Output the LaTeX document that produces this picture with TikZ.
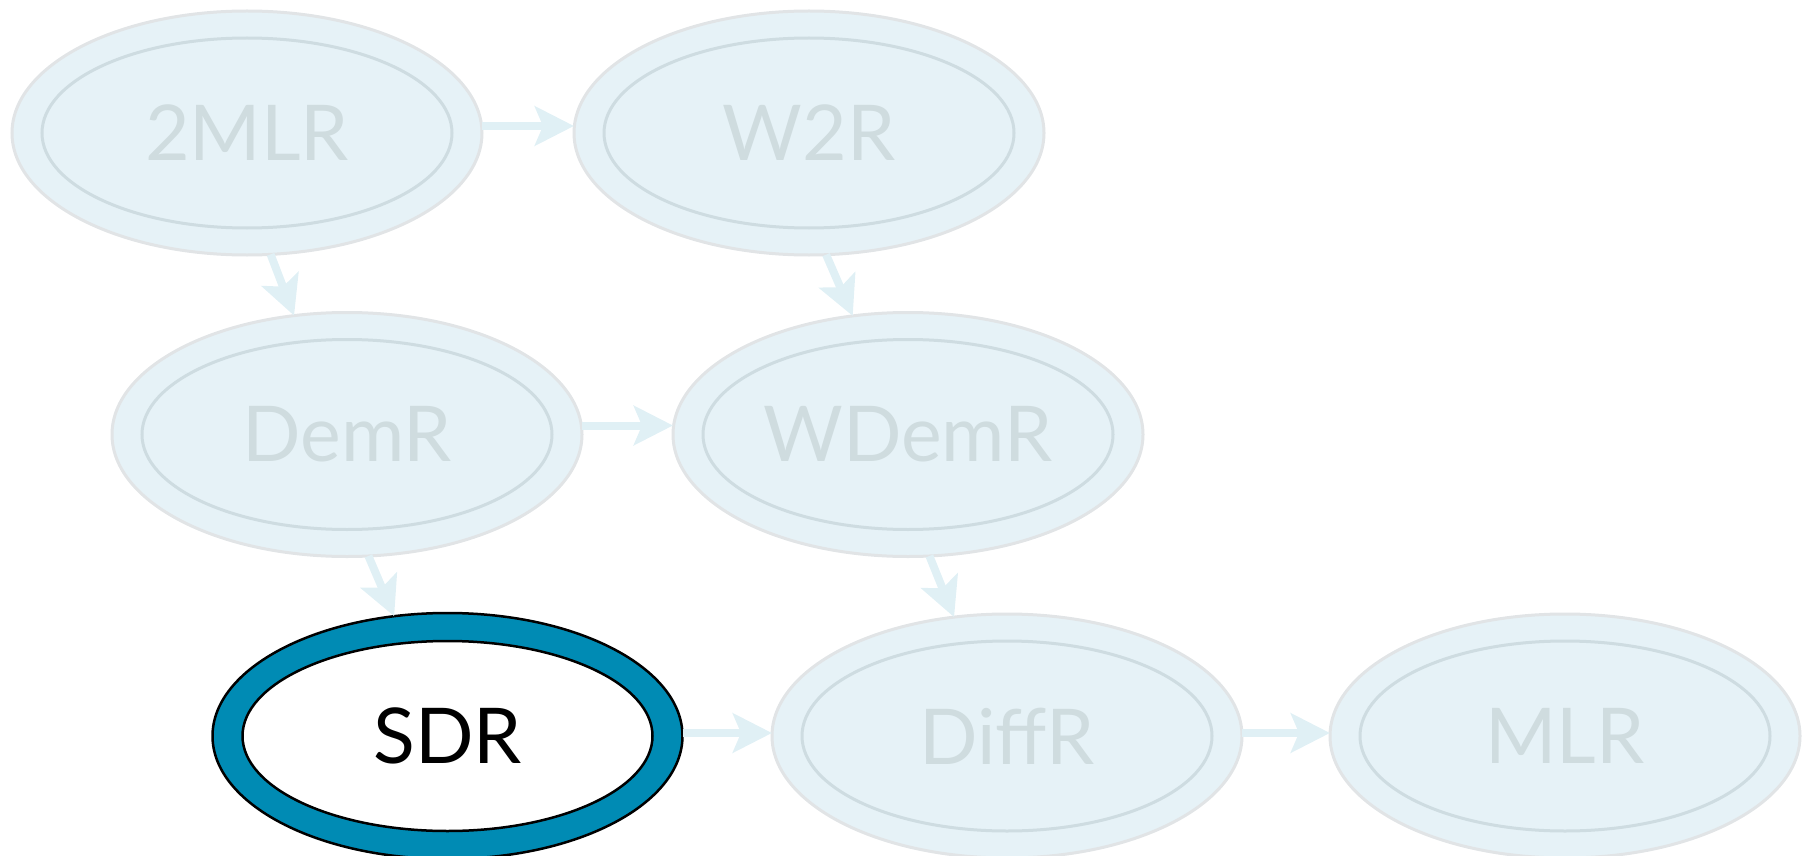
\documentclass[tikz,border=0pt]{standalone}
\usepackage{fontspec}
\setmainfont{Lato}
\usetikzlibrary{shapes.geometric,arrows.meta}
\definecolor{fadefill}{RGB}{230,242,247}
\definecolor{fadeouter}{RGB}{225,228,230}
\definecolor{fadeinner}{RGB}{206,220,225}
\definecolor{fadetext}{RGB}{207,220,223}
\definecolor{arrowc}{RGB}{224,240,245}
\definecolor{sdrblue}{RGB}{0,139,180}
\begin{document}
\begin{tikzpicture}[x=1pt,y=-1pt,
  outerfade/.style={ellipse, minimum width=470pt, minimum height=244pt, inner sep=0pt, outer sep=0pt, fill=fadefill, draw=fadeouter, line width=3pt},
  innerfade/.style={ellipse, minimum width=410pt, minimum height=190pt, inner sep=0pt, outer sep=0pt, draw=fadeinner, line width=3pt, text=fadetext, font=\fontsize{77}{92}\selectfont},
  outersel/.style={ellipse, minimum width=470pt, minimum height=246pt, inner sep=0pt, outer sep=0pt, fill=sdrblue, draw=black, line width=2.5pt},
  innersel/.style={ellipse, minimum width=410pt, minimum height=190pt, inner sep=0pt, outer sep=0pt, fill=white, draw=black, line width=2.5pt, text=black, font=\fontsize{77}{92}\selectfont},
  conn/.style={draw=arrowc, line width=8pt, -{Stealth[length=39pt,width=39pt,inset=8pt]}}
]
\useasboundingbox (0,0) rectangle (1802,856);

\node[outerfade] (m2) at (247,133) {};
\node[innerfade] (m2i) at (247,133) {2MLR};
\node[outerfade] (w2) at (809,133) {};
\node[innerfade] (w2i) at (809,133) {W2R};
\node[outerfade] (dem) at (347,434.5) {};
\node[innerfade] (demi) at (347,434.5) {DemR};
\node[outerfade] (wdem) at (908,434.5) {};
\node[innerfade] (wdemi) at (908,434.5) {WDemR};
\node[outersel] (sdr) at (447.5,736) {};
\node[innersel] (sdri) at (447.5,736) {SDR};
\node[outerfade] (diff) at (1007,736) {};
\node[innerfade] (diffi) at (1007,736) {DiffR};
\node[outerfade] (mlr) at (1565,736) {};
\node[innerfade] (mlri) at (1565,736) {MLR};

\draw[conn] ([yshift=7pt]m2.east) -- ([yshift=7pt]w2.west);
\draw[conn] ([yshift=9pt]dem.east) -- ([yshift=9pt]wdem.west);
\draw[conn] ([yshift=3pt]sdr.east) -- ([yshift=3pt]diff.west);
\draw[conn] ([yshift=3pt]diff.east) -- ([yshift=3pt]mlr.west);
\draw[conn] (m2.-79) -- (dem.114);
\draw[conn] (w2.-82) -- (wdem.115);
\draw[conn] (dem.-80) -- (sdr.114);
\draw[conn] (wdem.-80) -- (diff.114);
\end{tikzpicture}
\end{document}
